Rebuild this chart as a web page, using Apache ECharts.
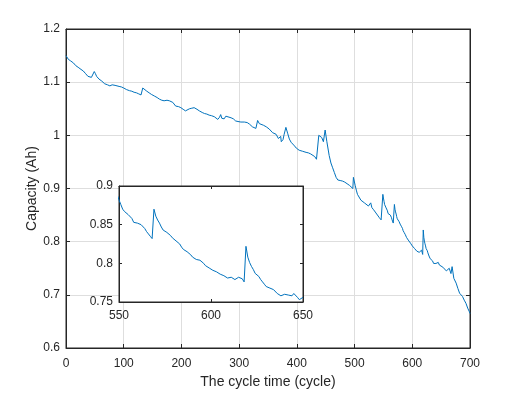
<!DOCTYPE html>
<html>
<head>
<meta charset="utf-8">
<script src="https://cdn.jsdelivr.net/npm/echarts@6/dist/echarts.min.js"></script>
<style>html,body{margin:0;padding:0;background:#fff}#c{width:519px;height:394px}</style>
</head>
<body>
<div id="c"></div>
<script>
// Cycle numbers and capacity readings (Ah)
var cycles = [0,4,8,13,17,21,26,30,34,38,44,47,49,51,53,57,62,67,72,76,80,82,85,88,92,96,100,105,110,114,118,122,126,130,132,133,136,140,144,148,153,158,162,166,170,175,179,185,190,195,199,203,207,210,214,218,222,227,231,236,240,244,248,252,257,260,263,266,268,270,274,277,280,286,290,294,298,303,309,314,318,323,326,329,332,335,338,342,347,352,355,358,364,368,370,372,373,376,378,381,384,387,390,393,396,399,404,410,416,420,424,427,431,434,436,438,440,443,446,449,452,456,459,462,465,468,471,475,479,483,487,491,494,497,498,501,503,505,508,511,514,517,520,524,527,528,530,533,537,540,543,546,548,549,
550,551,552,553,554,555,556,557,558,559,560,561,562,563,564,565,566,567,568,569,570,571,572,573,574,575,576,577,578,579,580,581,582,583,584,585,586,587,588,589,590,591,592,593,594,595,596,597,598,599,600,601,602,603,604,605,606,607,608,609,610,611,612,613,614,615,616,617,618,619,620,621,622,623,624,625,626,627,628,629,630,631,632,633,634,635,636,637,638,639,640,641,642,643,644,645,646,647,648,649,650,
653,656,659,661,664,667,669,672,676,679,682,685,687,690,693,696,699,700];
var capacity = [1.150,1.143,1.140,1.136,1.131,1.128,1.124,1.121,1.116,1.111,1.109,1.112,1.120,1.116,1.111,1.106,1.102,1.097,1.095,1.093,1.095,1.097,1.094,1.093,1.092,1.091,1.089,1.086,1.084,1.083,1.081,1.080,1.078,1.076,1.075,1.089,1.087,1.083,1.080,1.077,1.074,1.071,1.068,1.066,1.065,1.066,1.065,1.062,1.055,1.054,1.052,1.049,1.046,1.049,1.050,1.051,1.052,1.049,1.046,1.043,1.041,1.040,1.038,1.037,1.035,1.033,1.030,1.034,1.039,1.032,1.031,1.036,1.035,1.033,1.031,1.027,1.026,1.025,1.025,1.024,1.021,1.016,1.014,1.013,1.028,1.022,1.021,1.019,1.016,1.012,1.009,1.005,1.002,0.994,0.993,0.998,0.988,0.992,1.002,1.015,1.004,0.993,0.987,0.986,0.980,0.976,0.972,0.970,0.968,0.967,0.965,0.963,0.960,0.955,0.952,1.000,0.998,0.996,0.988,1.010,0.988,0.962,0.948,0.939,0.930,0.921,0.916,0.915,0.914,0.912,0.909,0.906,0.903,0.900,0.921,0.906,0.897,0.889,0.886,0.878,0.876,0.873,0.871,0.867,0.865,0.873,0.864,0.860,0.854,0.851,0.845,0.841,0.838,0.889,
0.882,0.876,0.870,0.867,0.865,0.863,0.862,0.858,0.853,0.852,0.852,0.851,0.850,0.848,0.845,0.841,0.838,0.835,0.832,0.870,0.861,0.856,0.852,0.847,0.843,0.842,0.840,0.838,0.836,0.833,0.831,0.829,0.827,0.825,0.821,0.818,0.817,0.815,0.813,0.811,0.808,0.807,0.805,0.803,0.804,0.804,0.800,0.797,0.796,0.794,0.792,0.791,0.790,0.789,0.787,0.786,0.785,0.784,0.782,0.781,0.781,0.782,0.780,0.779,0.779,0.782,0.784,0.780,0.776,0.822,0.808,0.801,0.796,0.792,0.787,0.785,0.783,0.779,0.776,0.773,0.770,0.768,0.768,0.769,0.766,0.764,0.761,0.759,0.758,0.758,0.760,0.759,0.759,0.759,0.758,0.761,0.760,0.756,0.753,0.754,0.756,
0.752,0.749,0.745,0.742,0.750,0.740,0.753,0.731,0.722,0.712,0.703,0.706,0.697,0.690,0.684,0.675,0.668,0.665];

var xTicksMain = [0,100,200,300,400,500,600,700];
var yTicksMain = [0.6,0.7,0.8,0.9,1.0,1.1,1.2];
var xTicksInset = [550,600,650];
var yTicksInset = [0.75,0.8,0.85,0.9];

var data = cycles.map(function(c,i){return [c, capacity[i]];});
var insetData = data.filter(function(d){return d[0] >= 548 && d[0] <= 652;});

var AX = '#262626', GRID = '#dedede', LINE = '#0072BD';
var FONT = 'Liberation Sans, Arial, sans-serif';
function fmt(v){ return String(+(+v).toFixed(2)); }

function axis(type, opts){
  var base = {
    type: 'value',
    axisLine: {show: true, onZero: false, lineStyle: {color: AX, width: 1}},
    axisTick: {show: true, inside: true, length: 4, lineStyle: {color: AX, width: 1}},
    axisLabel: {color: AX, fontSize: 12, fontFamily: FONT, formatter: fmt},
    splitLine: {show: false}
  };
  for (var k in opts) base[k] = opts[k];
  return base;
}

var chart = echarts.init(document.getElementById('c'), null, {renderer: 'canvas'});
chart.setOption({
  animation: false,
  backgroundColor: '#fff',
  grid: [
    {left: 66, top: 29, width: 404, height: 321, show: true, borderColor: AX, borderWidth: 1, backgroundColor: '#fff', z: 0},
    {left: 119, top: 186, width: 184, height: 116, show: true, borderColor: AX, borderWidth: 1, backgroundColor: '#fff', z: 10}
  ],
  xAxis: [
    axis('x', {gridIndex: 0, position: 'bottom', min: xTicksMain[0], max: xTicksMain[xTicksMain.length-1], interval: 100,
      axisLabel: {color: AX, fontSize: 12, fontFamily: FONT, margin: 10, formatter: fmt},
      splitLine: {show: true, lineStyle: {color: GRID, width: 1}},
      name: 'The cycle time (cycle)', nameLocation: 'middle', nameGap: 27, nameMoveOverlap: false,
      nameTextStyle: {color: AX, fontSize: 14, fontFamily: FONT}}),
    axis('x', {gridIndex: 0, position: 'top', min: 0, max: 700, interval: 100, axisLabel: {show: false}}),
    axis('x', {gridIndex: 1, position: 'bottom', min: xTicksInset[0], max: xTicksInset[xTicksInset.length-1], interval: 50, z: 11,
      axisTick: {show: true, inside: true, length: 3, lineStyle: {color: AX}},
      axisLabel: {color: AX, fontSize: 12, fontFamily: FONT, margin: 8, formatter: fmt}}),
    axis('x', {gridIndex: 1, position: 'top', min: 550, max: 650, interval: 50, z: 11,
      axisTick: {show: true, inside: true, length: 3, lineStyle: {color: AX}}, axisLabel: {show: false}})
  ],
  yAxis: [
    axis('y', {gridIndex: 0, position: 'left', min: yTicksMain[0], max: yTicksMain[yTicksMain.length-1], interval: 0.1,
      axisLabel: {color: AX, fontSize: 12, fontFamily: FONT, margin: 6, formatter: fmt},
      splitLine: {show: true, lineStyle: {color: GRID, width: 1}},
      name: 'Capacity (Ah)', nameLocation: 'middle', nameGap: 27, nameMoveOverlap: false,
      nameTextStyle: {color: AX, fontSize: 14, fontFamily: FONT}}),
    axis('y', {gridIndex: 0, position: 'right', min: 0.6, max: 1.2, interval: 0.1, axisLabel: {show: false}}),
    axis('y', {gridIndex: 1, position: 'left', min: yTicksInset[0], max: yTicksInset[yTicksInset.length-1], interval: 0.05, z: 11,
      axisTick: {show: true, inside: true, length: 3, lineStyle: {color: AX}},
      axisLabel: {color: AX, fontSize: 12, fontFamily: FONT, margin: 6, formatter: fmt}}),
    axis('y', {gridIndex: 1, position: 'right', min: 0.75, max: 0.9, interval: 0.05, z: 11,
      axisTick: {show: true, inside: true, length: 3, lineStyle: {color: AX}}, axisLabel: {show: false}})
  ],
  series: [
    {type: 'line', xAxisIndex: 0, yAxisIndex: 0, data: data, showSymbol: false, symbol: 'none',
      lineStyle: {color: LINE, width: 1}, z: 3},
    {type: 'line', xAxisIndex: 2, yAxisIndex: 2, data: insetData, showSymbol: false, symbol: 'none', clip: true,
      lineStyle: {color: LINE, width: 1}, z: 12}
  ]
});
</script>
</body>
</html>
